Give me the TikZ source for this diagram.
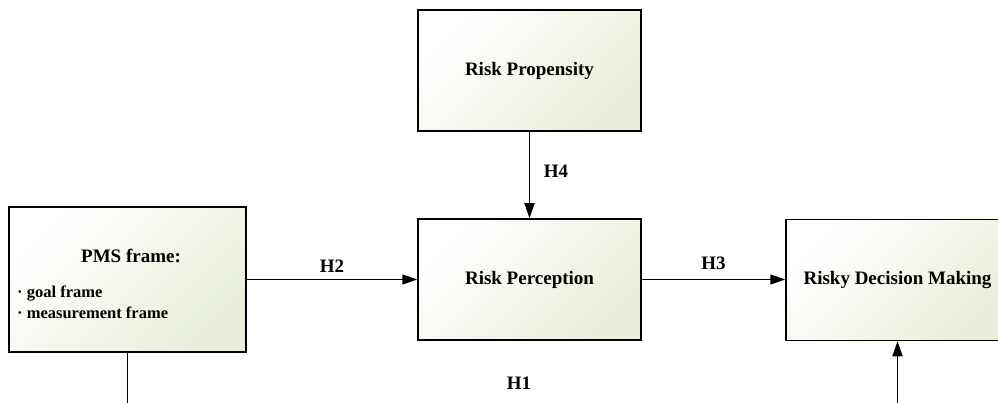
\documentclass[tikz,border=0pt]{standalone}
\usepackage{fontspec}
\setmainfont{Liberation Serif}
\usetikzlibrary{arrows.meta,positioning}
\definecolor{boxtint}{RGB}{232,238,218}
\tikzset{
factor/.style=
    {rectangle,
    draw=black,
    line width=1.5pt,
    top color=boxtint,
    bottom color=white,
    shading angle=-135,
    minimum width=223pt,
    minimum height=121pt,
    inner sep=0pt,
    align=center,
    font=\fontsize{19}{23}\selectfont\bfseries
    },
hyp/.style=
    {font=\fontsize{19}{23}\selectfont\bfseries,
    inner sep=6pt
    },
item/.style=
    {anchor=base west,
    inner sep=3pt,
    font=\fontsize{16.5}{20}\selectfont\bfseries
    },
link/.style=
    {draw=black,
    line width=1.5pt,
    -{Triangle[length=15pt,width=10pt]}
    }}

\begin{document}
\begin{tikzpicture}[x=1pt,y=-1pt]
\clip (0,0) rectangle (998,403);
\node[factor,minimum width=237pt,minimum height=145pt] (pms) at (127.5,279.5) {};
\node[hyp,anchor=base] (pmstitle) at (131,262) {PMS frame:};
\node[item] (goal) at (14,298) {· goal frame};
\node[item] (measure) at (14,318) {· measurement frame};
\node[factor] (propensity) at (529.5,70.5) {Risk Propensity};
\node[factor] (perception) at (529.5,279.5) {Risk Perception};
\node[factor] (decision) at (897.5,280) {Risky Decision Making};
\coordinate (pmsdown) at (pms.south |- 0,403);
\coordinate (decup) at (decision.south |- 0,403);
\draw[link] (pms.east |- perception.west) -- node[hyp,above] (h2) {H2} (perception.west);
\draw[link] (perception.east) -- node[hyp,above,yshift=3pt] (h3) {H3} (decision.west |- perception.east);
\draw[link] (propensity.south) -- (perception.north);
\node[hyp] (h4) at (556,171) {H4};
\draw[line width=1.5pt] (pms.south) -- (pmsdown);
\draw[link] (decup) -- (decision.south);
\node[hyp] (h1) at (519,383) {H1};
\end{tikzpicture}
\end{document}
